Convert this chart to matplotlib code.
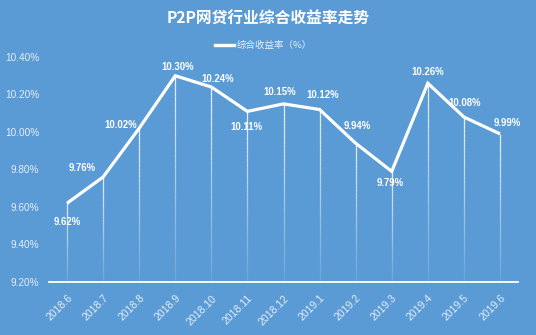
import numpy as np
import matplotlib
matplotlib.use("Agg")
import matplotlib.pyplot as plt
from matplotlib.collections import LineCollection

plt.rcParams['font.family'] = ['Liberation Sans', 'Noto Sans CJK SC', 'DejaVu Sans']

months = ["2018.6", "2018.7", "2018.8", "2018.9", "2018.10", "2018.11", "2018.12",
          "2019.1", "2019.2", "2019.3", "2019.4", "2019.5", "2019.6"]
rates = [9.62, 9.76, 10.02, 10.30, 10.24, 10.11, 10.15, 10.12, 9.94, 9.79, 10.26, 10.08, 9.99]
y_ticks = [9.20, 9.40, 9.60, 9.80, 10.00, 10.20, 10.40]

# label placement relative to each point, in pixels (dx, dy)
label_offsets = [(0, -19), (-21, 9), (-19, 3), (2, 9), (6, 8), (-1, -16), (-4, 12),
                 (3, 15), (2, 17), (-2, -12), (0, 11), (1, 14), (7, 11)]

bg = "#5b9bd5"
fig = plt.figure(figsize=(5.36, 3.35), dpi=100, facecolor=bg)
W, H = 536, 335
ax = fig.add_axes([49 / W, 1 - 282 / H, (518 - 49) / W, (282 - 57) / H])
ax.set_facecolor(bg)

x = np.arange(len(months))
ax.set_xlim(-0.5, len(months) - 0.5)
ax.set_ylim(y_ticks[0], y_ticks[-1])

# fading drop lines from each point down to the baseline
n_seg = 40
for xi, yi in zip(x, rates):
    ys = np.linspace(yi, y_ticks[0], n_seg + 1)
    segs = [[(xi, ys[k]), (xi, ys[k + 1])] for k in range(n_seg)]
    alphas = np.linspace(0.9, 0.1, n_seg)
    cols = [(1, 1, 1, a) for a in alphas]
    ax.add_collection(LineCollection(segs, colors=cols, linewidths=0.9, zorder=2))

line, = ax.plot(x, rates, color="white", lw=2.3, solid_joinstyle="miter",
                solid_capstyle="butt", zorder=3)

for xi, yi, (dx, dy) in zip(x, rates, label_offsets):
    ax.annotate(f"{yi:.2f}%", (xi, yi), xytext=(dx, dy), textcoords="offset pixels",
                ha="center", va="center", color="white", fontsize=6.9,
                fontweight="bold", zorder=4)

for s in ["top", "right", "left"]:
    ax.spines[s].set_visible(False)
ax.spines["bottom"].set_color("white")
ax.spines["bottom"].set_linewidth(1.3)

ax.set_yticks(y_ticks)
ax.set_yticklabels([f"{v:.2f}%" for v in y_ticks], color="#e6eef8", fontsize=7.2)
ax.tick_params(axis="y", length=0, pad=7)
ax.set_xticks(x)
ax.set_xticklabels(months, rotation=45, ha="right", va="top", color="#e6eef8",
                   fontsize=7.5, rotation_mode="anchor")
ax.tick_params(axis="x", length=0, pad=8)

fig.text(0.5, 1 - 19 / H, "P2P网贷行业综合收益率走势", ha="center", va="center",
         color="white", fontsize=11.3, fontweight="bold",
         family=['Noto Sans CJK SC', 'DejaVu Sans'])

# legend
fig.add_artist(plt.Line2D([215 / W, 234 / W], [1 - 45 / H, 1 - 45 / H],
                          color="white", lw=2.4))
fig.text(237 / W, 1 - 45 / H, "综合收益率（%）", ha="left", va="center",
         color="#e6eef8", fontsize=6.8, family=['Noto Sans CJK SC', 'DejaVu Sans'])

fig.savefig("out.png", dpi=100, facecolor=bg)
